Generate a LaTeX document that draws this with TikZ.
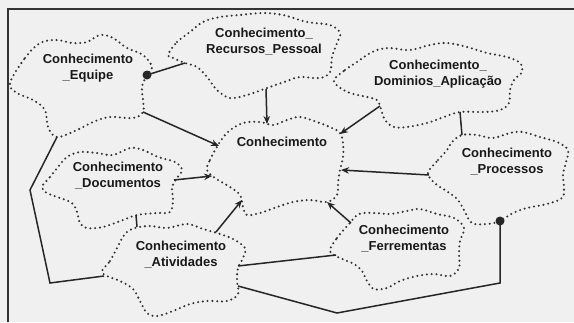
\documentclass[tikz,border=0pt]{standalone}
\usepackage{fontspec}
\setmainfont{Liberation Sans}
\usetikzlibrary{arrows.meta}

\begin{document}
\begin{tikzpicture}[x=1pt, y=-1pt, >={Stealth[length=8pt,width=6.5pt]},
    nuvem/.style={draw=black!80, line width=2.3pt, line cap=round, dash pattern=on 0pt off 4.8pt},
    lig/.style={draw=black!85, line width=1.5pt},
    rotulo/.style={align=center, text=black!90, font=\fontsize{13}{16}\selectfont\bfseries}]
            \fill[black!6] (0,0) rectangle (574,322);
            \useasboundingbox (0,0) rectangle (574,322);
            \draw[black!80, line width=1.8pt] (8,322) -- (8,9) -- (574,9);

            \newcommand{\nuvem}[1]{
                \draw[nuvem] plot[smooth cycle, tension=0.6] coordinates {#1};
            }

            \nuvem{(10,83) (25,58) (40,43) (57,40) (72,43) (87,42) (100,35) (113,38) (127,48) (143,55) (152,67) (147,75) (142,87) (143,100) (143,112) (133,118) (110,117) (93,122) (77,130) (57,137) (48,127) (45,110) (33,100) (17,93)};
            \nuvem{(168,55) (177,42) (190,32) (203,22) (220,17) (240,15) (263,13) (283,15) (307,22) (330,25) (340,33) (337,43) (332,57) (330,72) (320,78) (300,77) (287,81) (267,88) (247,95) (230,98) (217,90) (207,77) (197,67) (185,63) (173,58)};
            \nuvem{(334,80) (345,70) (357,62) (367,55) (377,50) (390,48) (410,50) (430,45) (447,43) (467,47) (487,53) (507,57) (520,63) (522,72) (514,80) (510,90) (509,103) (500,110) (484,112) (460,112) (444,117) (427,123) (407,127) (394,127) (385,120) (380,106) (377,100) (367,97) (350,93) (339,87)};
            \nuvem{(207,170) (210,160) (218,145) (228,132) (243,123) (260,122) (273,125) (287,120) (300,117) (317,122) (332,128) (340,133) (343,143) (343,157) (340,170) (338,183) (337,195) (327,202) (310,200) (293,202) (277,207) (260,213) (247,215) (243,207) (240,195) (230,187) (215,178)};
            \nuvem{(42,187) (50,177) (58,167) (67,157) (80,152) (97,153) (113,155) (130,148) (143,150) (158,157) (175,162) (182,170) (177,178) (172,187) (173,200) (170,212) (157,213) (137,215) (123,220) (103,227) (87,228) (80,223) (77,212) (72,203) (60,198) (47,193)};
            \nuvem{(428,172) (438,160) (447,150) (452,142) (462,135) (477,135) (493,138) (510,133) (523,132) (540,137) (557,142) (568,150) (566,162) (563,175) (564,188) (562,198) (547,204) (527,208) (513,213) (500,221) (487,224) (472,223) (465,212) (458,200) (448,192) (437,185) (430,178)};
            \nuvem{(330,251) (337,238) (349,224) (359,214) (374,213) (390,214) (407,211) (420,209) (437,214) (454,218) (464,228) (460,241) (459,254) (459,268) (450,276) (434,274) (417,276) (400,281) (387,288) (374,289) (367,281) (362,271) (354,264) (340,258)};
            \nuvem{(102,271) (110,261) (117,248) (125,234) (135,228) (150,226) (167,228) (187,224) (203,229) (217,233) (233,239) (245,248) (243,258) (238,268) (237,281) (238,294) (227,301) (207,301) (190,304) (173,311) (157,316) (147,313) (140,301) (133,289) (120,281) (107,276)};

            \node[rotulo] (eq) at (88,68) {Conhecimento\\\_Equipe};
            \node[rotulo] (rec) at (264,42) {Conhecimento\_\\Recursos\_Pessoal};
            \node[rotulo] (dom) at (438,74) {Conhecimento\_\\Dominios\_Aplicação};
            \node[rotulo] (con) at (282,142) {Conhecimento};
            \node[rotulo] (doc) at (118,176) {Conhecimento\\\_Documentos};
            \node[rotulo] (proc) at (507,162) {Conhecimento\\\_Processos};
            \node[rotulo] (fer) at (404,239) {Conhecimento\\\_Ferrementas};
            \node[rotulo] (ativ) at (181,255) {Conhecimento\\\_Atividades};

            \coordinate (rec-eq) at (185,63);
            \coordinate (eq-rec) at (147,75);
            \coordinate (eq-con) at (143,112);
            \coordinate (con-eq) at (219,146);
            \coordinate (rec-con) at (266,89);
            \coordinate (con-rec) at (267,124);
            \coordinate (dom-con) at (380,106);
            \coordinate (con-dom) at (340,134);
            \coordinate (proc-con) at (429,175);
            \coordinate (con-proc) at (341,170);
            \coordinate (fer-con) at (351,223);
            \coordinate (con-fer) at (327,202);
            \coordinate (ativ-con) at (216,232);
            \coordinate (con-ativ) at (242,200);
            \coordinate (doc-con) at (174,180);
            \coordinate (con-doc) at (212,176);
            \coordinate (dom-proc) at (460,112);
            \coordinate (proc-dom) at (462,135);
            \coordinate (doc-ativ) at (136,215);
            \coordinate (ativ-doc) at (137,227);
            \coordinate (eq-ativ) at (57,137);
            \coordinate (ativ-eq) at (104,276);
            \coordinate (ativ-fer) at (238,266);
            \coordinate (fer-ativ) at (336,255);
            \coordinate (ativ-proc) at (238,286);
            \coordinate (proc-ativ) at (500,221);

            \draw[lig] (rec-eq) -- (eq-rec);
            \fill[black!85] (eq-rec) circle (4.5);
            \draw[lig, ->] (eq-con) -- (con-eq);
            \draw[lig, ->] (rec-con) -- (con-rec);
            \draw[lig, ->] (dom-con) -- (con-dom);
            \draw[lig, ->] (proc-con) -- (con-proc);
            \draw[lig, ->] (fer-con) -- (con-fer);
            \draw[lig, ->] (ativ-con) -- (con-ativ);
            \draw[lig, ->] (doc-con) -- (con-doc);
            \draw[lig] (dom-proc) -- (proc-dom);
            \draw[lig] (doc-ativ) -- (ativ-doc);
            \draw[lig] (eq-ativ) -- (30,190) -- (50,283) -- (ativ-eq);
            \draw[lig] (ativ-fer) -- (fer-ativ);
            \draw[lig] (ativ-proc) -- (337,313) -- (500,283) -- (proc-ativ);
            \fill[black!85] (proc-ativ) circle (4.5);
        \end{tikzpicture}
\end{document}
